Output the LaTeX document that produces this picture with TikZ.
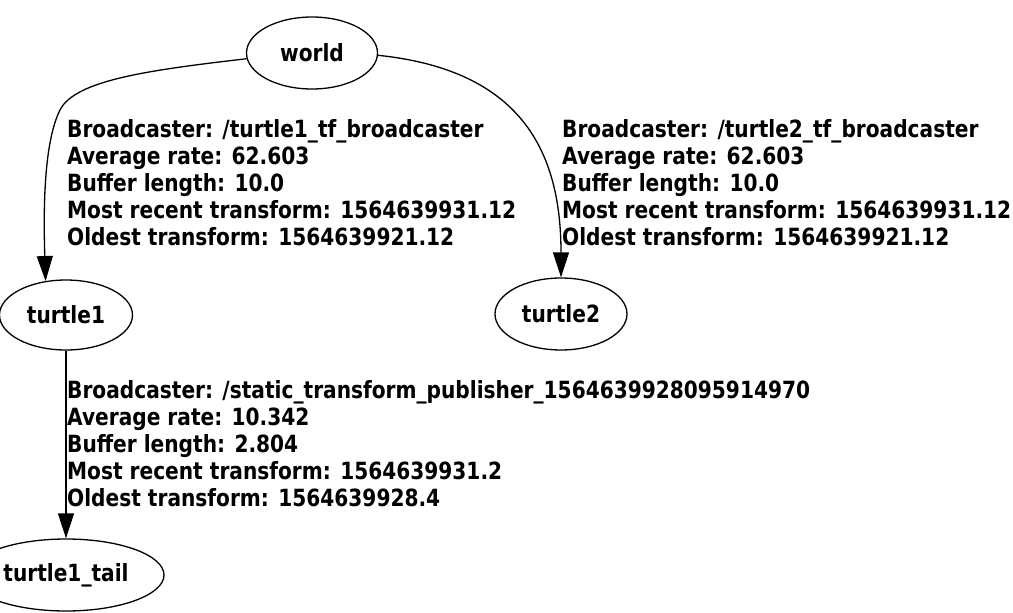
\documentclass[tikz,border=0pt]{standalone}
\usepackage{fontspec}
\usetikzlibrary{shapes.geometric,arrows.meta}
\newfontfamily\lblfont{DejaVu Sans}[FakeStretch=0.85]
\begin{document}
\begin{tikzpicture}[x=1pt,y=-1pt,
  tfnode/.style={draw,ellipse,line width=1.3pt,inner sep=0pt,font=\lblfont\bfseries\fontsize{23.7}{27}\selectfont},
  tfedge/.style={line width=1.3pt,-{Triangle[length=25pt,width=16pt]}},
  tflabel/.style={anchor=north west,inner sep=0pt,align=left,font=\lblfont\bfseries\fontsize{23.7}{27}\selectfont}]
\useasboundingbox (0,0) rectangle (1013,613);
\clip (0,0) rectangle (1013,613);
\node[tfnode,minimum width=131pt,minimum height=72pt] (world) at (312,53) {world};
\node[tfnode,minimum width=133pt,minimum height=70pt] (turtle1) at (66,315) {turtle1};
\node[tfnode,minimum width=132pt,minimum height=72pt] (turtle2) at (561,314) {turtle2};
\node[tfnode,minimum width=196pt,minimum height=72pt] (tail) at (66,575) {turtle1\_tail};
\draw[tfedge] (world.185) .. controls (150,70) and (75,80) .. (60,110) .. controls (45,140) and (43,200) .. (turtle1.121);
\draw[tfedge] (world.358) .. controls (520,70) and (561,150) .. (turtle2.north);
\draw[tfedge] (turtle1.south) -- (tail.north);
\node[tflabel] (labA) at (67,119) {Broadcaster: /turtle1\_tf\_broadcaster\\Average rate: 62.603\\Buffer length: 10.0\\Most recent transform: 1564639931.12\\Oldest transform: 1564639921.12};
\node[tflabel] (labB) at (562,119) {Broadcaster: /turtle2\_tf\_broadcaster\\Average rate: 62.603\\Buffer length: 10.0\\Most recent transform: 1564639931.12\\Oldest transform: 1564639921.12};
\node[tflabel] (labC) at (67,380) {Broadcaster: /static\_transform\_publisher\_1564639928095914970\\Average rate: 10.342\\Buffer length: 2.804\\Most recent transform: 1564639931.2\\Oldest transform: 1564639928.4};
\end{tikzpicture}
\end{document}
